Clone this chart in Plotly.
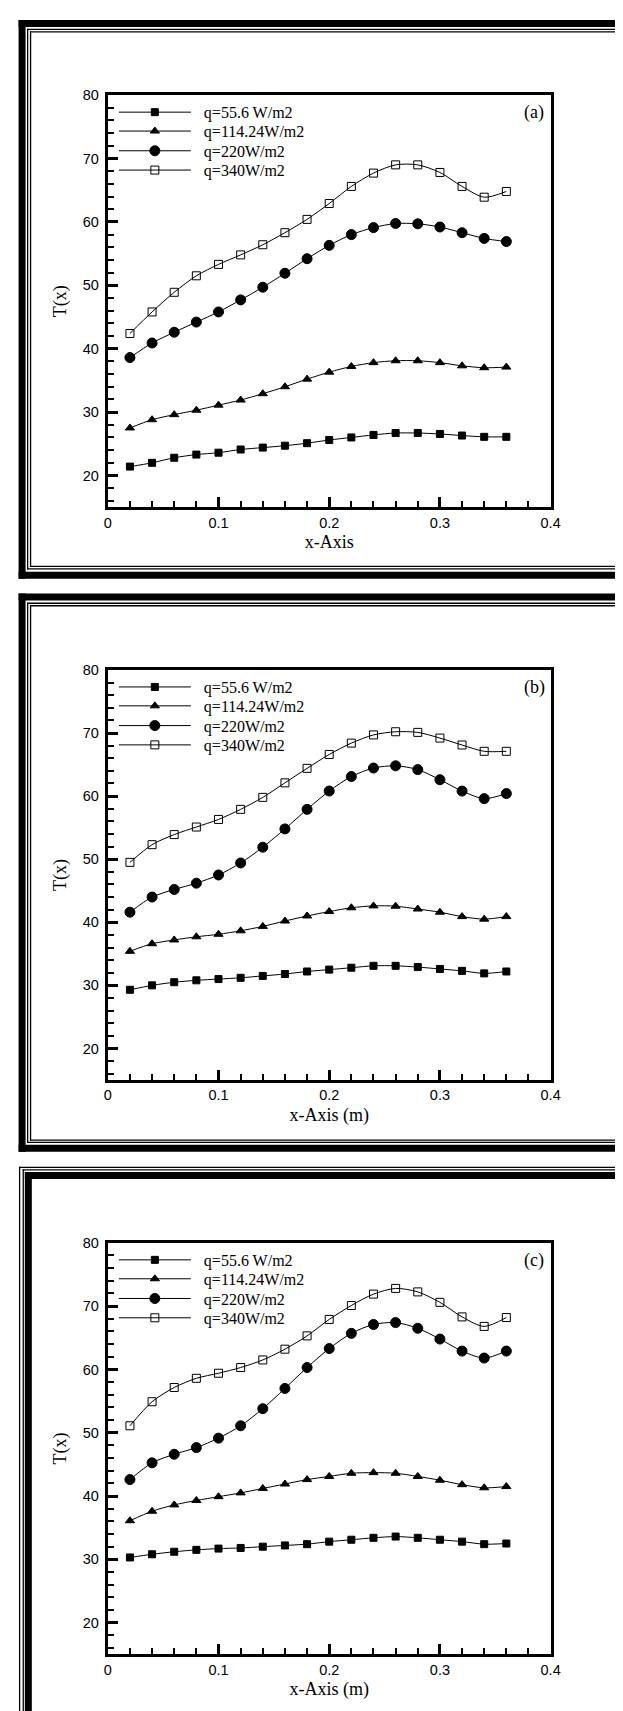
import plotly.graph_objects as go

W, H = 623, 1711

# ---------------- data ----------------
x_pos = [0.02, 0.04, 0.06, 0.08, 0.10, 0.12, 0.14, 0.16, 0.18,
         0.20, 0.22, 0.24, 0.26, 0.28, 0.30, 0.32, 0.34, 0.36]

series_names = ["q=55.6 W/m2", "q=114.24W/m2", "q=220W/m2", "q=340W/m2"]

a_q55 = [21.4, 22.0, 22.8, 23.3, 23.6, 24.1, 24.4, 24.7, 25.1, 25.6, 26.0, 26.4, 26.7, 26.7, 26.55, 26.3, 26.1, 26.1]
a_q114 = [27.5, 28.8, 29.6, 30.3, 31.1, 31.9, 32.9, 34.0, 35.2, 36.3, 37.2, 37.8, 38.1, 38.1, 37.8, 37.3, 37.0, 37.1]
a_q220 = [38.6, 40.9, 42.6, 44.2, 45.8, 47.7, 49.7, 51.9, 54.2, 56.3, 58.0, 59.1, 59.75, 59.7, 59.2, 58.3, 57.4, 56.9]
a_q340 = [42.4, 45.8, 48.9, 51.5, 53.3, 54.8, 56.4, 58.3, 60.4, 62.9, 65.6, 67.7, 69.0, 69.0, 67.8, 65.6, 63.9, 64.8]

b_q55 = [29.3, 30.0, 30.5, 30.8, 31.0, 31.2, 31.5, 31.8, 32.2, 32.5, 32.8, 33.1, 33.1, 32.9, 32.6, 32.3, 31.9, 32.2]
b_q114 = [35.4, 36.6, 37.2, 37.7, 38.1, 38.65, 39.35, 40.2, 41.0, 41.7, 42.3, 42.6, 42.55, 42.1, 41.6, 40.9, 40.5, 40.9]
b_q220 = [41.6, 44.0, 45.2, 46.2, 47.5, 49.4, 51.9, 54.8, 57.9, 60.8, 63.1, 64.45, 64.8, 64.2, 62.6, 60.8, 59.6, 60.4]
b_q340 = [49.5, 52.3, 53.9, 55.1, 56.3, 57.9, 59.8, 62.1, 64.4, 66.6, 68.4, 69.7, 70.2, 70.1, 69.2, 68.1, 67.1, 67.1]

c_q55 = [30.3, 30.8, 31.2, 31.5, 31.7, 31.8, 32.0, 32.2, 32.4, 32.8, 33.1, 33.4, 33.6, 33.4, 33.1, 32.8, 32.4, 32.5]
c_q114 = [36.1, 37.6, 38.6, 39.3, 39.9, 40.5, 41.2, 41.9, 42.6, 43.1, 43.6, 43.7, 43.6, 43.1, 42.5, 41.8, 41.3, 41.5]
c_q220 = [42.6, 45.25, 46.6, 47.65, 49.15, 51.1, 53.8, 57.0, 60.3, 63.3, 65.7, 67.1, 67.4, 66.5, 64.8, 62.9, 61.8, 62.9]
c_q340 = [51.1, 54.9, 57.15, 58.6, 59.4, 60.3, 61.5, 63.2, 65.3, 67.9, 70.1, 71.9, 72.8, 72.25, 70.6, 68.3, 66.8, 68.2]

panel_tags = ["(a)", "(b)", "(c)"]
x_titles = ["x-Axis", "x-Axis (m)", "x-Axis (m)"]
y_title = "T(x)"
x_range = [0, 0.4]
y_range = [15, 80]

# ---------------- layout helpers ----------------
def fx(px):
    return px / W

def fy(py):
    return 1 - py / H

SERIF = "Liberation Serif, Times New Roman, serif"
SANS = "Liberation Sans, Arial, sans-serif"

# plot boxes in pixels: (top, bottom)
boxes = [(79.5, 493.5), (657.0, 1069.0), (1232.6, 1646.0)]
X_LEFT, X_RIGHT = 98.0, 551.0

panels = [
    [a_q55, a_q114, a_q220, a_q340],
    [b_q55, b_q114, b_q220, b_q340],
    [c_q55, c_q114, c_q220, c_q340],
]

markers = [
    dict(symbol="square", size=7),
    dict(symbol="triangle-up", size=8),
    dict(symbol="circle", size=10),
    dict(symbol="square-open", size=8),
]

fig = go.Figure()
layout = dict(
    width=W, height=H,
    margin=dict(l=0, r=0, t=0, b=0),
    paper_bgcolor="white", plot_bgcolor="white",
    showlegend=True,
)

NBSP = "\u00a0"
row_offsets = [17.2, 36.2, 56.0, 75.4]
legend_count = 0
annotations = []
for p, (vals, (top, bot)) in enumerate(zip(panels, boxes)):
    sfx = "" if p == 0 else str(p + 1)
    xa, ya = "x" + sfx, "y" + sfx
    for s, yv in enumerate(vals):
        legend_count += 1
        lname = "legend" if legend_count == 1 else "legend%d" % legend_count
        m = markers[s]
        fig.add_trace(go.Scatter(
            x=x_pos, y=yv, xaxis=xa, yaxis=ya,
            mode="lines+markers", name=NBSP * 2 + series_names[s],
            legend=lname,
            line=dict(color="black", width=1, shape="spline", smoothing=0.8),
            marker=dict(symbol=m["symbol"], size=m["size"], color="black",
                        line=dict(color="black", width=1)),
        ))
        layout[lname] = dict(
            x=fx(104.2), xanchor="left",
            y=fy(top + row_offsets[s]), yanchor="middle",
            bgcolor="rgba(0,0,0,0)", borderwidth=0,
            font=dict(family=SERIF, size=16, color="black"),
            itemwidth=72, itemsizing="trace",
        )
    common_axis = dict(
        showgrid=False, zeroline=False, showline=True, linewidth=3,
        linecolor="black", mirror=True, ticks="inside", tickcolor="black",
        tickfont=dict(family=SANS, size=14.5, color="black"),
    )
    layout["xaxis" + sfx] = dict(
        common_axis, domain=[fx(X_LEFT), fx(X_RIGHT)], anchor=ya,
        range=x_range, dtick=0.1, tick0=0, ticklen=10, tickwidth=3,
        minor=dict(dtick=0.02, ticklen=6, tickwidth=2, ticks="inside", tickcolor="black"),
        title=dict(text=x_titles[p], font=dict(family=SERIF, size=18, color="black"), standoff=6),
    )
    layout["yaxis" + sfx] = dict(
        common_axis, domain=[fy(bot), fy(top)], anchor=xa,
        range=y_range, dtick=10, tick0=0, ticklen=10, tickwidth=3,
        ticklabelstandoff=3,
        minor=dict(dtick=2, ticklen=6, tickwidth=2, ticks="inside", tickcolor="black"),
        title=dict(text=y_title, font=dict(family=SERIF, size=18, color="black"), standoff=12),
    )
    annotations.append(dict(
        text=panel_tags[p], xref="paper", yref="paper",
        x=fx(534.0), y=fy(top + 17.5), xanchor="center", yanchor="middle",
        showarrow=False, font=dict(family=SERIF, size=18, color="black"),
    ))

layout["annotations"] = annotations

# ---------------- decorative page frames ----------------
shapes = []
def hline(y, w, x0=None, x1=700):
    return dict(type="line", xref="paper", yref="paper",
                x0=fx(x0), x1=fx(x1), y0=fy(y), y1=fy(y),
                line=dict(color="black", width=w))

def vline(x, w, y0, y1):
    return dict(type="line", xref="paper", yref="paper",
                x0=fx(x), x1=fx(x), y0=fy(y0), y1=fy(y1),
                line=dict(color="black", width=w))

# frame description: list of (left_x, top_y, bottom_y, width)
frames = [
    [(10.3, 7.5, 562.0, 7), (16.0, 13.5, 555.5, 1.3), (19.0, 16.0, 553.0, 1.3)],
    [(10.3, 583.7, 1137.5, 7), (16.0, 590.0, 1131.7, 1.3), (19.0, 592.5, 1129.5, 1.3)],
    [(7.8, 1156.7, 1720.0, 1.3), (11.5, 1159.3, 1716.0, 1.3), (16.7, 1165.0, 1707.5, 7)],
]
for fr in frames:
    for (lx, ty, by, w) in fr:
        shapes.append(hline(ty, w, x0=lx - w / 2))
        shapes.append(hline(by, w, x0=lx - w / 2))
        shapes.append(vline(lx, w, ty - w / 2, by + w / 2))

layout["shapes"] = shapes
fig.update_layout(**layout)
fig.write_html("out.html")
